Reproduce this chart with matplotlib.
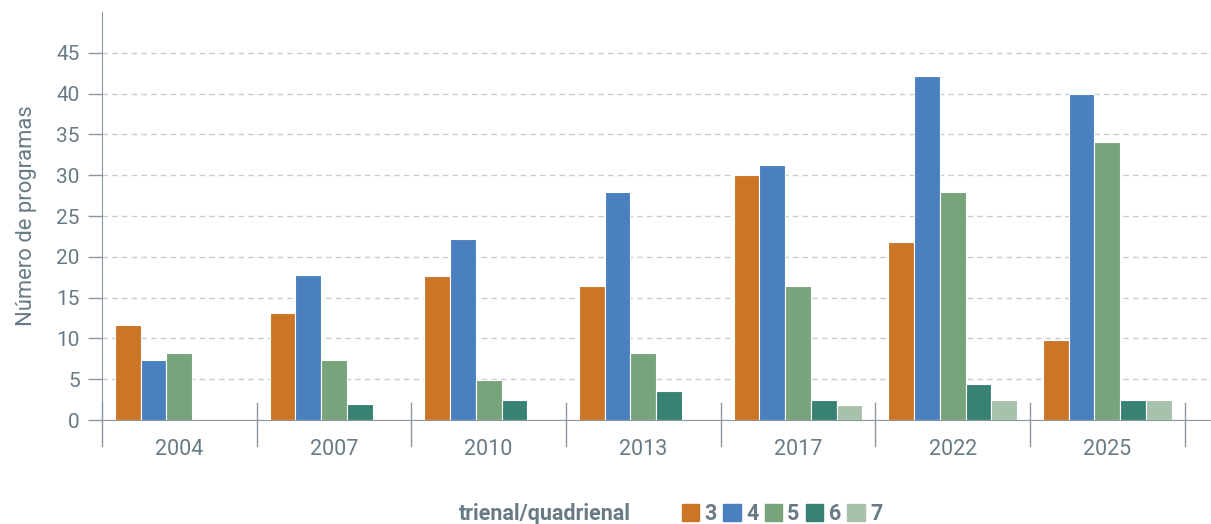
import numpy as np
import matplotlib.pyplot as plt
from matplotlib.patches import Patch

plt.rcParams['font.family'] = ['Roboto', 'DejaVu Sans']

years = ["2004", "2007", "2010", "2013", "2017", "2022", "2025"]
series_names = ["3", "4", "5", "6", "7"]
dur_3 = [11.7, 13.1, 17.7, 16.4, 30.0, 21.8, 9.8]
dur_4 = [7.3, 17.8, 22.2, 28.0, 31.3, 42.2, 40.0]
dur_5 = [8.2, 7.3, 4.9, 8.2, 16.4, 28.0, 34.1]
dur_6 = [0, 1.9, 2.4, 3.6, 2.4, 4.4, 2.4]
dur_7 = [0, 0, 0, 0, 1.8, 2.4, 2.4]
colors = ["#cd7526", "#4a7fc0", "#78a47b", "#388274", "#a8c1ac"]

text_col = "#687a86"
axis_col = "#8c98a1"

fig = plt.figure(figsize=(12.11, 5.24), dpi=100)
ax = fig.add_axes([102 / 1211, 104 / 524, 1 - 102 / 1211, 408 / 524])

x = np.arange(len(years))
width = 1 / 6
all_series = [dur_3, dur_4, dur_5, dur_6, dur_7]
for i, vals in enumerate(all_series):
    ax.bar(x + (i - 2) * width, vals, width, color=colors[i],
           edgecolor="white", linewidth=0.8, zorder=3)

ax.set_xlim(-0.5, 6.67)
ax.set_ylim(0, 50)
ax.set_yticks(range(0, 50, 5))
ax.yaxis.grid(True, linestyle=(0, (4, 3)), color="#c5cdd3", linewidth=1)
ax.set_axisbelow(True)

ax.set_xticks(x)
ax.set_xticklabels(years)
ax.tick_params(axis="x", length=0, pad=14, labelsize=15.5, labelcolor=text_col)
ax.tick_params(axis="y", length=10, width=1, color=axis_col, pad=6,
               labelsize=15, labelcolor=text_col)

for side in ["top", "right"]:
    ax.spines[side].set_visible(False)
ax.spines["left"].set_color(axis_col)
ax.spines["bottom"].set_color(axis_col)

# group separators crossing the x axis
trans = ax.get_xaxis_transform()
for b in np.arange(-0.5, 7, 1):
    ax.plot([b, b], [-26 / 408, 17 / 408], color=axis_col, lw=1,
            transform=trans, clip_on=False, zorder=4)

ax.set_ylabel("Número de programas", fontsize=15.8, color=text_col, labelpad=14)

fig.text(459 / 1211, 1 - 514 / 524, "trienal/quadrienal", fontsize=15.5,
         fontweight="bold", color=text_col, va="center", ha="left")
handles = [Patch(color=c) for c in colors]
leg = fig.legend(handles, series_names, loc="center left",
                 bbox_to_anchor=(682 / 1211, 1 - 514 / 524), ncol=5,
                 frameon=False, borderaxespad=0, borderpad=0,
                 handlelength=0.8, handleheight=0.8,
                 handletextpad=0.25, columnspacing=0.3,
                 prop={"size": 15.5, "weight": "bold"})
for t in leg.get_texts():
    t.set_color(text_col)

fig.savefig("out.png", dpi=100)
